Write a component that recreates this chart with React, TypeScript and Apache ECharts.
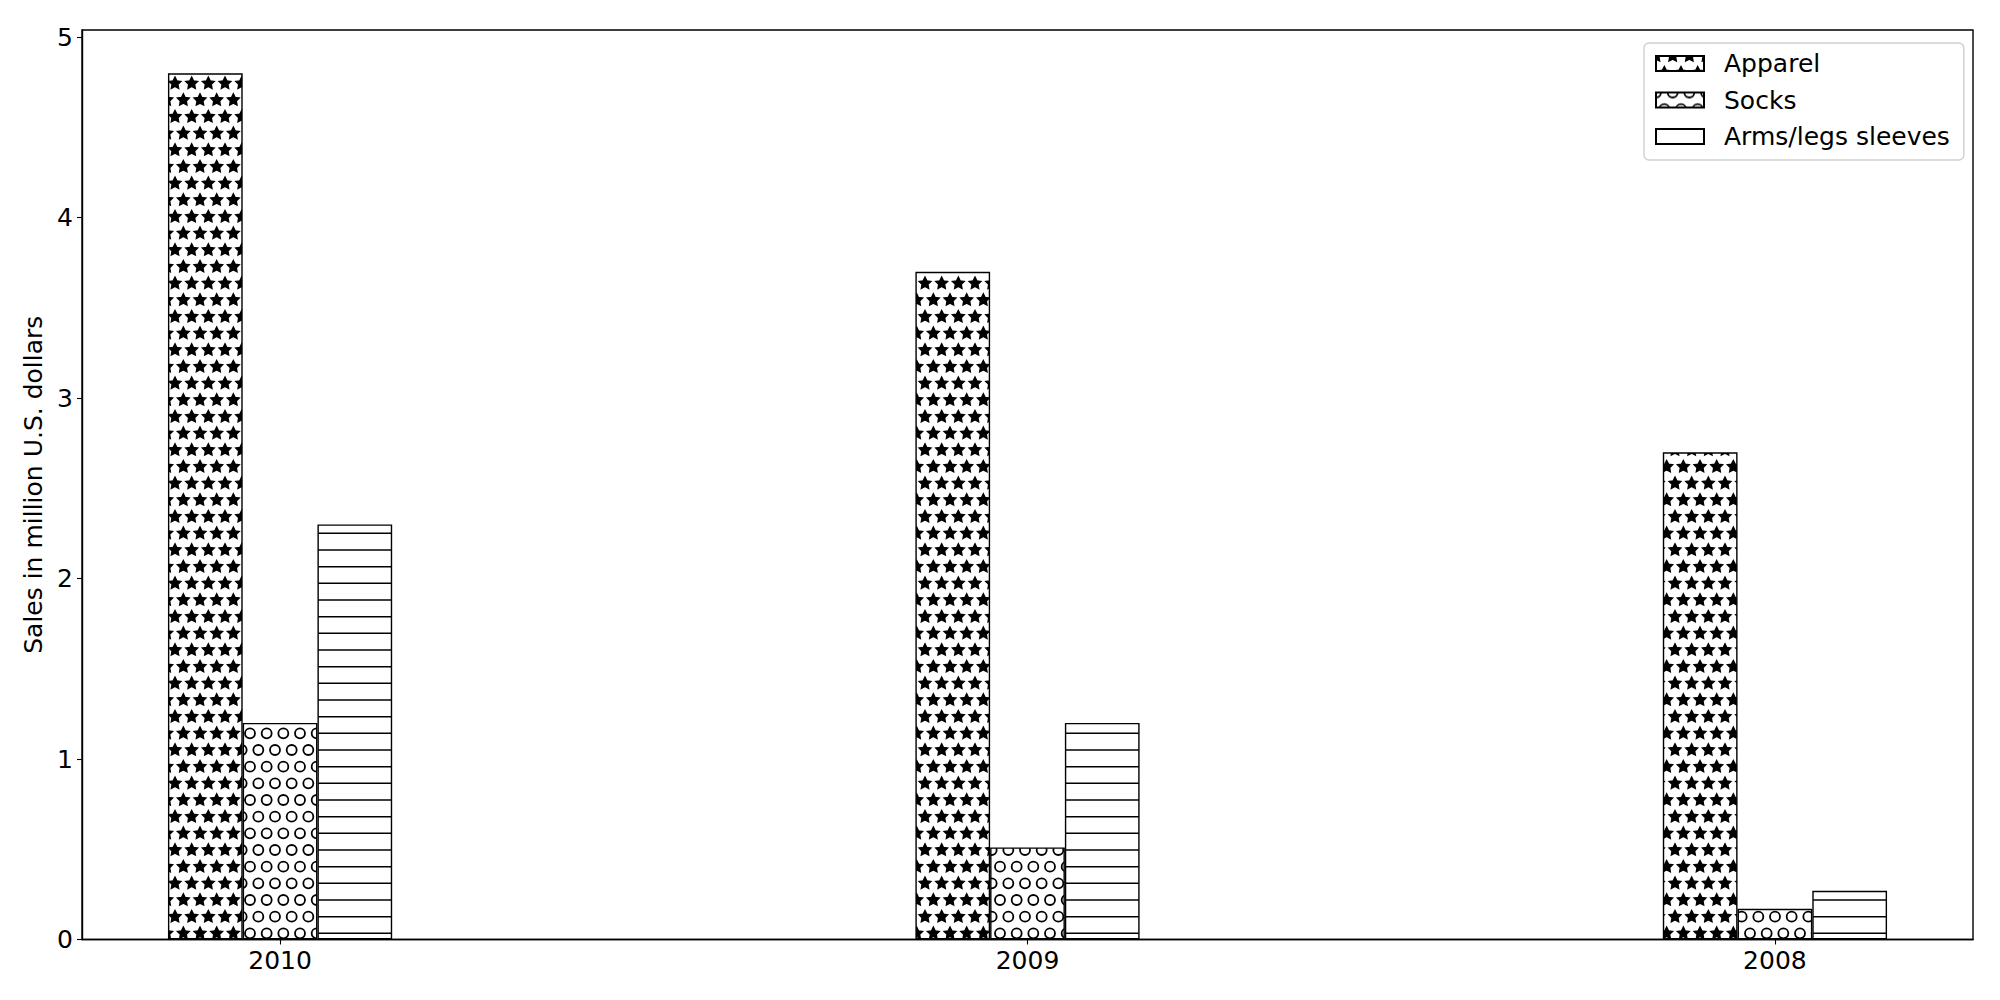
import React, { useEffect, useRef } from "react";
import * as echarts from "echarts";

const years = ["2010", "2009", "2008"];
const seriesNames = ["Apparel", "Socks", "Arms/legs sleeves"];
const apparel = [4.8, 3.7, 2.7];
const socks = [1.2, 0.51, 0.17];
const sleeves = [2.3, 1.2, 0.27];
const yTicks = [0, 1, 2, 3, 4, 5];
const xTicks = [0, 1, 2];

const FONT = "DejaVu Sans";

function makePattern(kind: string) {
  const size = 100;
  const c = document.createElement("canvas");
  c.width = size;
  c.height = size;
  const ctx = c.getContext("2d")!;
  ctx.fillStyle = "#fff";
  ctx.fillRect(0, 0, size, size);
  const s = size / 6;
  ctx.strokeStyle = "#000";
  ctx.fillStyle = "#000";
  if (kind === "lines") {
    ctx.lineWidth = 1.5;
    for (let r = 0; r <= 6; r++) {
      ctx.beginPath();
      ctx.moveTo(0, r * s);
      ctx.lineTo(size, r * s);
      ctx.stroke();
    }
  } else {
    for (let r = 0; r <= 6; r++) {
      const y = r * s;
      const xs: number[] = [];
      if (r % 2 === 0) for (let j = 0; j <= 6; j++) xs.push(j * s);
      else for (let j = 0; j < 6; j++) xs.push(s / 2 + j * s);
      for (const x of xs) {
        if (kind === "star") {
          const R = 6.2;
          const ri = R * 0.5;
          ctx.beginPath();
          for (let k = 0; k < 10; k++) {
            const rad = k % 2 === 0 ? R : ri;
            const a = -Math.PI / 2 + (k * Math.PI) / 5;
            const px = x + rad * Math.cos(a);
            const py = y + rad * Math.sin(a);
            if (k === 0) ctx.moveTo(px, py);
            else ctx.lineTo(px, py);
          }
          ctx.closePath();
          ctx.fill();
          ctx.lineJoin = "miter";
          ctx.lineWidth = 1.4;
          ctx.stroke();
        } else {
          ctx.lineWidth = 1.8;
          ctx.beginPath();
          ctx.arc(x, y, 5.0, 0, Math.PI * 2);
          ctx.stroke();
        }
      }
    }
  }
  return {
    image: c.toDataURL(),
    repeat: "repeat",
    imageWidth: size,
    imageHeight: size,
  };
}

export default function App() {
  const ref = useRef<HTMLDivElement>(null);
  useEffect(() => {
    if (!ref.current) return;
    const chart = echarts.init(ref.current, null, { renderer: "svg" });
    const patterns = [makePattern("star"), makePattern("circle"), makePattern("lines")];
    const values = [apparel, socks, sleeves];
    const offsets = [-0.1, 0, 0.1];
    const barUnit = 0.1;

    const buildSeries = (barWidth: number) =>
      seriesNames.map((name, si) => ({
        name,
        type: "bar",
        barWidth,
        barGap: "-100%",
        data: values[si].map((v, i) => [i + offsets[si], v]),
        itemStyle: {
          color: patterns[si] as any,
          borderColor: "#000",
          borderWidth: 1.4,
        },
        emphasis: { disabled: true },
      }));

    const option: any = {
      animation: false,
      backgroundColor: "#fff",
      textStyle: { fontFamily: FONT },
      grid: {
        left: 82,
        top: 30,
        right: 27,
        bottom: 60.5,
        show: true,
        borderColor: "#000",
        borderWidth: 1.4,
        containLabel: false,
      },
      xAxis: {
        type: "value",
        min: -0.265,
        max: 2.265,
        splitLine: { show: false },
        axisLine: { show: true, onZero: false, lineStyle: { color: "#000", width: 1.4 } },
        axisTick: {
          show: true,
          customValues: xTicks,
          length: 5,
          lineStyle: { color: "#000", width: 1.1 },
        },
        axisLabel: {
          customValues: xTicks,
          formatter: (v: number) => years[Math.round(v)] ?? "",
          color: "#000",
          fontSize: 25,
          fontFamily: FONT,
          margin: 8,
        },
      },
      yAxis: {
        type: "value",
        min: 0,
        max: 5.04,
        name: "Sales in million U.S. dollars",
        nameLocation: "middle",
        nameGap: 27,
        nameRotate: 90,
        nameTextStyle: { color: "#000", fontSize: 25, fontFamily: FONT },
        splitLine: { show: false },
        axisLine: { show: true, onZero: false, lineStyle: { color: "#000", width: 1.4 } },
        axisTick: {
          show: true,
          customValues: yTicks,
          length: 5,
          lineStyle: { color: "#000", width: 1.1 },
        },
        axisLabel: {
          customValues: yTicks,
          color: "#000",
          fontSize: 25,
          fontFamily: FONT,
          margin: 9,
        },
      },
      legend: {
        show: true,
        orient: "vertical",
        left: 1644,
        top: 43,
        icon: "rect",
        itemWidth: 48,
        itemHeight: 15,
        itemGap: 11.5,
        padding: [8, 14, 11, 11],
        backgroundColor: "#fff",
        borderColor: "#d0d0d0",
        borderWidth: 1.4,
        borderRadius: 5,
        selectedMode: false,
        textStyle: {
          color: "#000",
          fontSize: 25,
          fontFamily: FONT,
          lineHeight: 25,
          padding: [0, 0, 0, 15],
        },
        data: seriesNames,
      },
      series: buildSeries(75),
    };
    chart.setOption(option);
    const p0 = chart.convertToPixel({ xAxisIndex: 0 }, 0) as number;
    const p1 = chart.convertToPixel({ xAxisIndex: 0 }, barUnit) as number;
    const bw = Math.abs(p1 - p0);
    if (isFinite(bw) && bw > 0) {
      chart.setOption({ series: buildSeries(bw) });
    }
    return () => chart.dispose();
  }, []);
  return (
    <div
      ref={ref}
      style={{ position: "fixed", left: 0, top: 0, width: 2000, height: 1000 }}
    />
  );
}
